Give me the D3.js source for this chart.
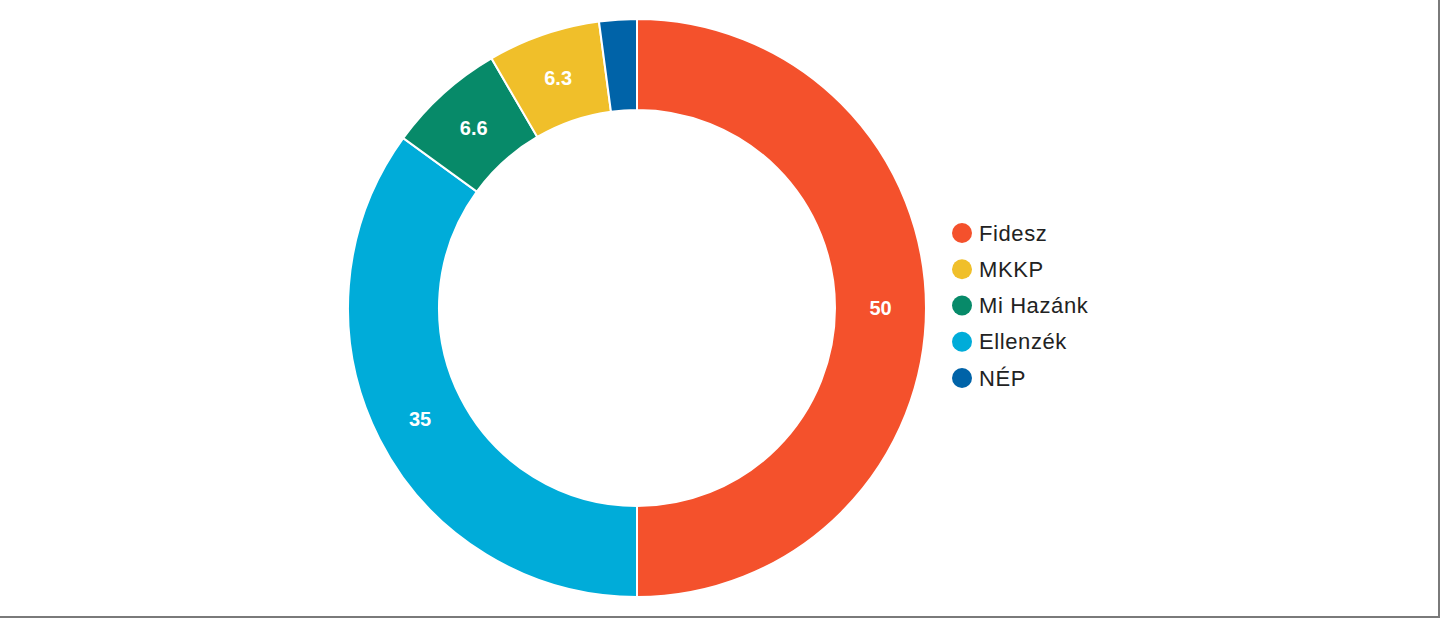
<!DOCTYPE html>
<meta charset="utf-8">
<head>
  <style>
    html, body { margin: 0; padding: 0; background: #fff; }
    #chart { width: 1440px; height: 618px; }
  </style>
</head>
<script src="https://cdn.jsdelivr.net/npm/d3@7"></script>
<body>
  <div id="chart"></div>
  <script>
    // slices in drawing order (clockwise from 12 o'clock)
    var parties = ["Fidesz", "Ellenzék", "Mi Hazánk", "MKKP", "NÉP"];
    var values = [50, 35, 6.6, 6.3, 2.1];
    var colors = ["#f4512c", "#00acd9", "#078a69", "#f0bf2a", "#0063a8"];
    // legend order as shown
    var legendOrder = ["Fidesz", "MKKP", "Mi Hazánk", "Ellenzék", "NÉP"];

    var width = 1440, height = 618;
    var cx = 637, cy = 308;
    var outerR = 289, innerR = 198;

    var svg = d3.select("#chart").append("svg")
      .attr("width", width)
      .attr("height", height);

    // frame lines on the right and bottom
    svg.append("line").attr("x1", width - 1).attr("x2", width - 1)
      .attr("y1", 0).attr("y2", height).attr("stroke", "#7a7a7a").attr("stroke-width", 2);
    svg.append("line").attr("x1", 0).attr("x2", width)
      .attr("y1", height - 1).attr("y2", height - 1).attr("stroke", "#7a7a7a").attr("stroke-width", 2);

    var color = d3.scaleOrdinal().domain(parties).range(colors);

    var data = parties.map(function(p, i) { return { name: p, value: values[i] }; });

    var pie = d3.pie().sort(null).value(function(d) { return d.value; });
    var arc = d3.arc().innerRadius(innerR).outerRadius(outerR);
    var labelArc = d3.arc().innerRadius((innerR + outerR) / 2).outerRadius((innerR + outerR) / 2);

    var g = svg.append("g").attr("transform", "translate(" + cx + "," + cy + ")");

    var arcs = pie(data);

    g.selectAll("path").data(arcs).enter().append("path")
      .attr("d", arc)
      .attr("fill", function(d) { return color(d.data.name); })
      .attr("stroke", "#fff")
      .attr("stroke-width", 2);

    g.selectAll("text").data(arcs.filter(function(d) { return d.data.value > 5; }))
      .enter().append("text")
      .attr("transform", function(d) { return "translate(" + labelArc.centroid(d) + ")"; })
      .attr("text-anchor", "middle")
      .attr("dy", "0.36em")
      .attr("fill", "#fff")
      .attr("font-family", "Arial, 'Liberation Sans', sans-serif")
      .attr("font-weight", "bold")
      .attr("font-size", 20)
      .text(function(d) { return d.data.value; });

    // legend
    var legY = d3.scalePoint().domain(legendOrder).range([233, 378]);
    var leg = svg.append("g");
    var item = leg.selectAll("g").data(legendOrder).enter().append("g")
      .attr("transform", function(d) { return "translate(962," + legY(d) + ")"; });
    item.append("circle").attr("r", 10).attr("fill", function(d) { return color(d); });
    item.append("text")
      .attr("x", 17)
      .attr("dy", "0.35em")
      .attr("fill", "#222")
      .attr("font-family", "Arial, 'Liberation Sans', sans-serif")
      .attr("font-size", 22)
      .attr("letter-spacing", 0.6)
      .text(function(d) { return d; });
  </script>
</body>
